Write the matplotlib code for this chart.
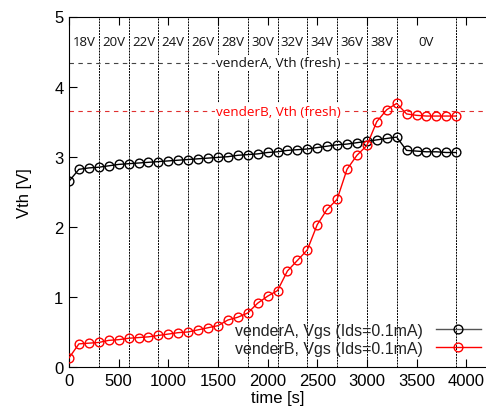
import matplotlib
matplotlib.use("Agg")
import matplotlib.pyplot as plt
import numpy as np

time_s = list(range(0, 4000, 100))
vendorA_vgs = [2.65, 2.82, 2.84, 2.85, 2.87, 2.89, 2.90, 2.91, 2.92, 2.93,
               2.94, 2.95, 2.96, 2.97, 2.98, 2.99, 3.00, 3.02, 3.03, 3.04,
               3.06, 3.07, 3.09, 3.10, 3.11, 3.13, 3.15, 3.17, 3.18, 3.20,
               3.22, 3.24, 3.26, 3.28, 3.09, 3.08, 3.07, 3.07, 3.06, 3.06]
vendorB_vgs = [0.13, 0.33, 0.34, 0.35, 0.38, 0.39, 0.41, 0.42, 0.43, 0.45,
               0.47, 0.49, 0.50, 0.53, 0.56, 0.59, 0.67, 0.71, 0.77, 0.91,
               1.01, 1.09, 1.37, 1.52, 1.67, 2.03, 2.25, 2.39, 2.82, 3.02,
               3.16, 3.50, 3.67, 3.76, 3.61, 3.59, 3.58, 3.58, 3.58, 3.58]
vth_fresh_A = 4.34
vth_fresh_B = 3.65
stage_bounds = [300, 600, 900, 1200, 1500, 1800, 2100, 2400, 2700, 3000, 3300, 3900]
stage_labels = ["18V", "20V", "22V", "24V", "26V", "28V", "30V", "32V", "34V", "36V", "38V", "0V"]

plt.rcParams['font.family'] = ['Liberation Sans', 'DejaVu Sans']
fig = plt.figure(figsize=(4.86, 4.14), dpi=100)
ax = fig.add_axes([69/486, 46/414, 1 - 69/486, (368 - 17.5)/414])
ax.set_xlim(0, 4200)
ax.set_ylim(0, 5)

for b in stage_bounds:
    ax.axvline(b, color='black', lw=0.7, ls=(0, (2, 1)), zorder=1)

ann_font = ['Open Sans', 'DejaVu Sans']
starts = [0] + stage_bounds[:-1]
for s, e, lab in zip(starts, stage_bounds, stage_labels):
    ax.text((s + e) / 2, 4.64, lab, ha='center', va='center', fontsize=9.5,
            family=ann_font, color='#111111', zorder=3)

ax.axhline(vth_fresh_A, color='#444444', lw=0.8, ls=(0, (4, 4)), zorder=1)
ax.axhline(vth_fresh_B, color='#e03030', lw=0.8, ls=(0, (4, 4)), zorder=1)
ax.text(2110, vth_fresh_A, "venderA, Vth (fresh)", ha='center', va='center', fontsize=9.7,
        family=ann_font, color='#111111', zorder=2,
        bbox=dict(facecolor='white', edgecolor='none', pad=1))
ax.text(2110, vth_fresh_B, "venderB, Vth (fresh)", ha='center', va='center', fontsize=9.7,
        family=ann_font, color='red', zorder=2,
        bbox=dict(facecolor='white', edgecolor='none', pad=1))

ax.plot(time_s, vendorA_vgs, color='black', lw=1, marker='o', ms=6.3, mfc='none',
        mec='black', mew=1, label="venderA, Vgs (Ids=0.1mA)", zorder=4)
ax.plot(time_s, vendorB_vgs, color='red', lw=1, marker='o', ms=6.3, mfc='none',
        mec='red', mew=1, label="venderB, Vgs (Ids=0.1mA)", zorder=4)

leg = ax.legend(loc='lower right', markerfirst=False, frameon=False, fontsize=11.5,
                handlelength=2.8, borderaxespad=0.3, labelspacing=0.2,
                bbox_to_anchor=(1.014, 0.0))
for t in leg.get_texts():
    t.set_color('#222222')
leg.get_lines()[0].set_color('#555555')
leg.get_lines()[0].set_markeredgecolor('black')

ax.set_xticks(range(0, 4001, 500))
ax.set_yticks(range(0, 6))
ax.tick_params(direction='in', length=6, labelsize=12, top=True, right=False, pad=4)
ax.spines['right'].set_visible(False)
ax.set_xlabel("time [s]", fontsize=12, labelpad=2)
ax.set_ylabel("Vth [V]", fontsize=12, labelpad=16)

fig.savefig("out.png", dpi=100)
